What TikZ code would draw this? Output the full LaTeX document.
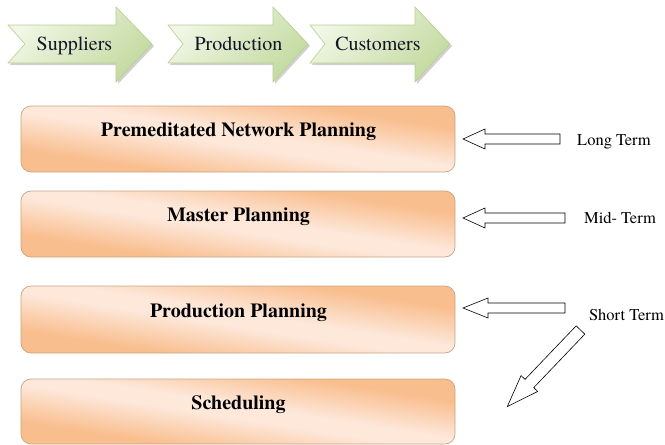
\documentclass[tikz,border=0pt]{standalone}
\usepackage{fontspec}
\IfFontExistsTF{texgyretermes-regular.otf}
  {\setmainfont{texgyretermes}[Extension=.otf, UprightFont=*-regular,
     BoldFont=*-bold, ItalicFont=*-italic, BoldItalicFont=*-bolditalic]}
  {\setmainfont{Liberation Serif}}
\usetikzlibrary{shadings}

\definecolor{peach}{HTML}{F9BE8E}
\definecolor{peachlight}{HTML}{FDE8DA}
\definecolor{peachline}{HTML}{C9A385}
\definecolor{leaflight}{HTML}{F1F7E6}
\definecolor{leafdark}{HTML}{C4DAA0}
\definecolor{leafline}{HTML}{B8CF90}
\definecolor{inktext}{HTML}{141428}

% diagonal light band across the planning boxes
\pgfdeclareverticalshading{peachband}{100bp}{%
  color(0bp)=(peach); color(31bp)=(peach); color(47bp)=(peachlight);
  color(53bp)=(peachlight); color(69bp)=(peach); color(100bp)=(peach)}

\tikzset{
  stage/.style={draw=leafline, line width=0.6pt,
    top color=leaflight, bottom color=leafdark, shading angle=45},
  stageshadow/.style={fill=black, opacity=0.18},
  stagelabel/.style={anchor=base, text=inktext, font=\rmfamily\mdseries\fontsize{20}{24}\selectfont},
  levelbox/.style={rounded corners=10pt, draw=peachline, line width=0.7pt,
    shading=peachband, shading angle=-9},
  levellabel/.style={anchor=base, font=\rmfamily\bfseries\fontsize{20}{24}\selectfont},
  termlabel/.style={anchor=base, font=\rmfamily\mdseries\fontsize{16.5}{20}\selectfont},
  arrowline/.style={draw=black, fill=white, line width=0.6pt, line join=miter},
  pics/hollowarrow/.style n args={4}{code={
    % #1 length, #2 head length, #3 shaft half width, #4 head half width
    \draw[arrowline] (0,-#3) -- (#1-#2,-#3) -- (#1-#2,-#4) -- (#1,0)
      -- (#1-#2,#4) -- (#1-#2,#3) -- (0,#3) -- cycle;
  }},
}

\begin{document}
\begin{tikzpicture}[x=1pt,y=-1pt]
\useasboundingbox (0,0) rectangle (665,445);

% supply chain stages
\foreach \l/\n/\h/\t in {8/25/116/152, 168/183/273/308, 310/325/415/450}{
  \fill[stageshadow] (\l+2,27) -- (\h+2,27) -- (\h+2,9) -- (\t+2,46) -- (\h+2,84)
    -- (\h+2,65) -- (\l+2,65) -- (\n+2,46) -- cycle;
  \path[stage] (\l,25) -- (\h,25) -- (\h,7) -- (\t,44) -- (\h,82)
    -- (\h,63) -- (\l,63) -- (\n,44) -- cycle;
}
\node[stagelabel] (sup) at (74.5,50) {Suppliers};
\node[stagelabel] (pro) at (238.5,50) {Production};
\node[stagelabel] (cus) at (378,50) {Customers};

% planning levels
\path[levelbox] (21,106) rectangle (455,172);
\path[levelbox] (21,191) rectangle (455,257);
\path[levelbox] (21,286) rectangle (455,353);
\path[levelbox] (21,379) rectangle (455,444);
\node[levellabel] (net) at (238.5,136) {Premeditated Network Planning};
\node[levellabel] (mas) at (238.5,221) {Master Planning};
\node[levellabel] (prp) at (238.5,317) {Production Planning};
\node[levellabel] (sch) at (238.5,409) {Scheduling};

% planning horizons
\pic[rotate=180] at (560,139) {hollowarrow={97}{22}{5}{10}};
\pic[rotate=180] at (565,218) {hollowarrow={102}{22}{5}{10}};
\pic[rotate=180] at (565,308) {hollowarrow={102}{25}{5}{10}};
\pic[rotate=226.3] at (580.5,330) {hollowarrow={106}{32}{6}{11.5}};

\node[termlabel] (lt) at (614,145) {Long Term};
\node[termlabel] (mt) at (620,223) {Mid- Term};
\node[termlabel] (st) at (626.5,320) {Short Term};
\end{tikzpicture}
\end{document}
